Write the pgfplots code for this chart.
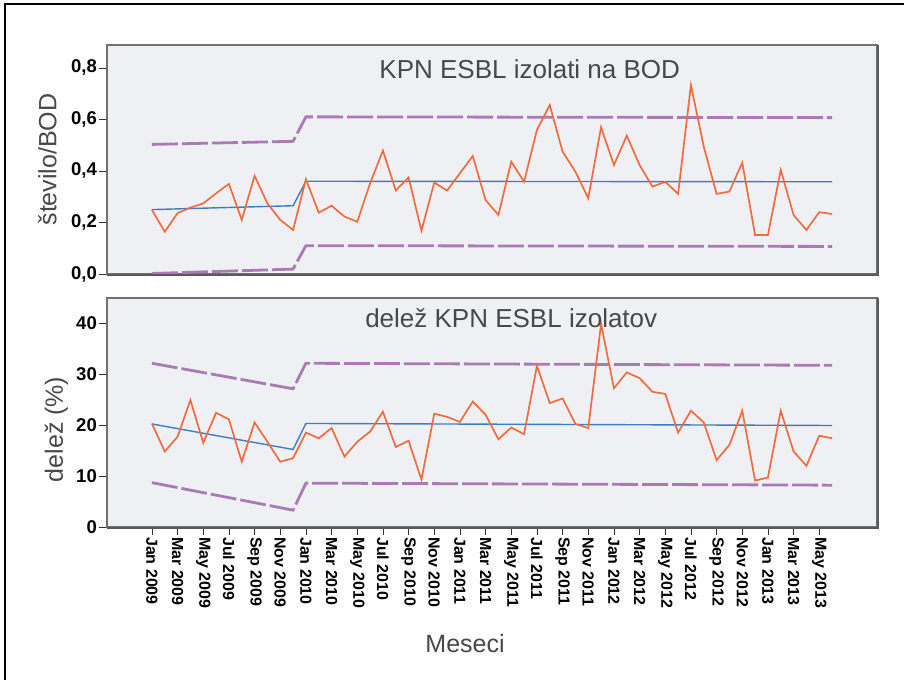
\documentclass[border=0pt]{standalone}
\usepackage{pgfplots}
\pgfplotsset{compat=1.18}
\usepackage{fontspec}
\setmainfont{Liberation Sans}

\definecolor{bgc}{RGB}{239,240,244}
\definecolor{framec}{RGB}{112,112,112}
\definecolor{obs}{RGB}{240,108,64}
\definecolor{ctr}{RGB}{62,125,195}
\definecolor{lim}{RGB}{168,124,178}
\definecolor{txt}{RGB}{72,72,72}

\tikzset{ttl/.style={anchor=base, font=\fontsize{26bp}{26bp}\selectfont, text=txt}}

\pgfplotsset{
  kpn/.style={
    scale only axis, width=770bp, height=229bp,
    xmin=-3.5, xmax=56.5, ymin=0,
    axis background/.style={fill=bgc},
    axis line style={draw=framec, line width=1.4bp},
    tick align=outside, major tick length=8bp,
    tick style={draw=black!80, line width=0.8bp},
    xtick pos=bottom, ytick pos=left,
    /pgf/number format/assume math mode=true,
    yticklabel style={font=\fontsize{18.5bp}{18.5bp}\selectfont\bfseries, inner sep=2bp},
    ylabel style={font=\fontsize{25bp}{25bp}\selectfont, text=txt, anchor=south},
  },
  obsline/.style={draw=obs, line width=1.7bp, no marks},
  ctrline/.style={draw=ctr, line width=1.4bp, no marks},
  limline/.style={draw=lim, line width=2.8bp, no marks, dash pattern=on 26bp off 4bp},
}

% monthly observations, Jan 2009 = 0
\pgfplotstableread{
m  bod    pct
0  0.249  20.3
1  0.164  14.8
2  0.236  17.7
3  0.258  24.9
4  0.274  16.5
5  0.313  22.4
6  0.350  21.1
7  0.210  12.8
8  0.381  20.5
9  0.274  16.7
10 0.210  12.8
11 0.171  13.5
12 0.368  18.5
13 0.238  17.4
14 0.265  19.4
15 0.223  13.8
16 0.203  16.7
17 0.352  18.7
18 0.479  22.6
19 0.324  15.7
20 0.375  16.9
21 0.168   9.3
22 0.355  22.2
23 0.324  21.6
24 0.391  20.6
25 0.458  24.6
26 0.287  22.0
27 0.229  17.2
28 0.436  19.5
29 0.358  18.2
30 0.559  31.6
31 0.656  24.3
32 0.475  25.2
33 0.397  20.2
34 0.294  19.4
35 0.570  39.8
36 0.423  27.2
37 0.537  30.3
38 0.423  29.2
39 0.339  26.5
40 0.358  26.1
41 0.311  18.5
42 0.734  22.8
43 0.494  20.5
44 0.311  13.1
45 0.320  16.1
46 0.432  22.8
47 0.151   9.1
48 0.151   9.7
49 0.404  22.8
50 0.229  14.8
51 0.171  12.0
52 0.240  17.9
53 0.233  17.4
}\monthly

\begin{document}
\begin{tikzpicture}[x=1bp,y=1bp]
\useasboundingbox (0,0) rectangle (904,680);
\draw[black, line width=1.3bp] (5,0) -- (5,676) -- (904,676);

% upper panel: isolates per bed-day
\begin{axis}[kpn, at={(107bp,406bp)}, anchor=south west,
  ymax=0.889, ytick={0,0.2,0.4,0.6,0.8}, xtick=\empty,
  yticklabel style={/pgf/number format/.cd, fixed, fixed zerofill, precision=1, use comma},
  ylabel={število/BOD},
  ylabel style={at={(axis description cs:-0.061,0.5)}},
]
\addplot[limline] coordinates {(0,0.503) (11,0.515) (12,0.61) (53,0.607)};
\addplot[limline] coordinates {(0,0.002) (11,0.019) (12,0.11) (53,0.107)};
\addplot[ctrline] coordinates {(0,0.250) (11,0.265) (12,0.360) (53,0.358)};
\addplot[obsline] table[x=m, y=bod] {\monthly};
\node[ttl] at (rel axis cs:0.549,0.852) {KPN ESBL izolati na BOD};
\end{axis}

% lower panel: share of isolates
\begin{axis}[kpn, at={(107bp,153bp)}, anchor=south west,
  ymax=44.9, ytick={0,10,20,30,40},
  xtick={0,2,...,52},
  xticklabels={Jan 2009,Mar 2009,May 2009,Jul 2009,Sep 2009,Nov 2009,
    Jan 2010,Mar 2010,May 2010,Jul 2010,Sep 2010,Nov 2010,
    Jan 2011,Mar 2011,May 2011,Jul 2011,Sep 2011,Nov 2011,
    Jan 2012,Mar 2012,May 2012,Jul 2012,Sep 2012,Nov 2012,
    Jan 2013,Mar 2013,May 2013},
  xticklabel style={rotate=-90, anchor=west, inner sep=2bp,
    font=\fontsize{16bp}{16bp}\selectfont\bfseries},
  ylabel={delež (\%)},
  ylabel style={at={(axis description cs:-0.046,0.426)}},
  xlabel={Meseci},
  xlabel style={at={(axis description cs:0.465,-0.546)}, anchor=base,
    font=\fontsize{25bp}{25bp}\selectfont, text=txt},
]
\addplot[limline] coordinates {(0,32.1) (11,27.1) (12,32.1) (53,31.7)};
\addplot[limline] coordinates {(0,8.7) (11,3.3) (12,8.6) (53,8.2)};
\addplot[ctrline] coordinates {(0,20.2) (11,15.2) (12,20.3) (53,19.9)};
\addplot[obsline] table[x=m, y=pct] {\monthly};
\node[ttl] at (rel axis cs:0.525,0.869) {delež KPN ESBL izolatov};
\end{axis}

% darker edge along the right and bottom of each panel
\draw[framec!80!black, line width=2.2bp] (107,405) -- (878.3,405) -- (878.3,635);
\draw[framec!80!black, line width=2.2bp] (107,152) -- (878.3,152) -- (878.3,382);
\end{tikzpicture}
\end{document}
